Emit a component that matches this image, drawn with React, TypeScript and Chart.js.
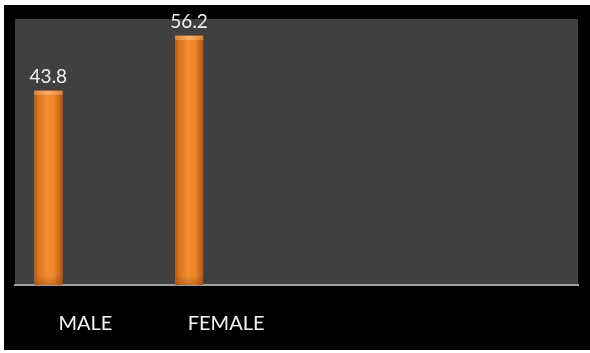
import React, { useEffect, useRef } from "react";
import { Chart, registerables } from "chart.js";

Chart.register(...registerables);

const categories = ["MALE", "FEMALE", "", ""];
const percentValues = [43.8, 56.2, null, null];
const emptySeriesA: (number | null)[] = [];
const emptySeriesB: (number | null)[] = [];
const yMin = 0;
const yMax = 60;

const FONT = "Lato, 'Open Sans', sans-serif";

const framePlugin = {
  id: "frame",
  beforeDraw(chart: any) {
    const { ctx, chartArea } = chart;
    ctx.save();
    ctx.fillStyle = "#ffffff";
    ctx.fillRect(0, 0, chart.width, chart.height);
    ctx.fillStyle = "#000000";
    ctx.fillRect(4, 5, chart.width - 4, chart.height - 8);
    ctx.fillStyle = "#404040";
    ctx.fillRect(chartArea.left, chartArea.top, chartArea.right - chartArea.left, chartArea.bottom - chartArea.top);
    ctx.restore();
  },
};

const barStylePlugin = {
  id: "barStyle",
  afterDatasetsDraw(chart: any) {
    const { ctx } = chart;
    const meta = chart.getDatasetMeta(0);
    ctx.save();
    meta.data.forEach((el: any, i: number) => {
      const v = percentValues[i];
      if (v === null || v === undefined) return;
      const { x, y, base, width } = el.getProps(["x", "y", "base", "width"], true);
      const l = x - width / 2;
      const r = x + width / 2;
      const g = ctx.createLinearGradient(l, 0, r, 0);
      g.addColorStop(0, "#B85A14");
      g.addColorStop(0.15, "#DA741F");
      g.addColorStop(0.45, "#F58E30");
      g.addColorStop(0.7, "#EE8829");
      g.addColorStop(1, "#B5581A");
      ctx.fillStyle = g;
      ctx.fillRect(l, y, width, base - y);
      const cg = ctx.createLinearGradient(l, 0, r, 0);
      cg.addColorStop(0, "#E0883A");
      cg.addColorStop(0.5, "#FBB066");
      cg.addColorStop(1, "#DC8436");
      ctx.fillStyle = cg;
      ctx.fillRect(l, y, width, 4);
      const bg = ctx.createLinearGradient(0, base - 10, 0, base);
      bg.addColorStop(0, "rgba(120,60,20,0)");
      bg.addColorStop(1, "rgba(120,60,20,0.35)");
      ctx.fillStyle = bg;
      ctx.fillRect(l, base - 10, width, 10);
      ctx.fillStyle = "#F2F2F2";
      ctx.font = `19px ${FONT}`;
      ctx.textAlign = "center";
      ctx.textBaseline = "alphabetic";
      ctx.fillText(String(v), x, y - 8);
    });
    ctx.restore();
  },
};

export default function App() {
  const ref = useRef<HTMLCanvasElement | null>(null);
  useEffect(() => {
    if (!ref.current) return;
    const chart = new Chart(ref.current, {
      type: "bar",
      data: {
        labels: categories,
        datasets: [
          { data: percentValues as any, backgroundColor: "#E87E26", categoryPercentage: 0.789, barPercentage: 0.757 },
          { data: emptySeriesA as any, backgroundColor: "#888888", categoryPercentage: 0.789, barPercentage: 0.757 },
          { data: emptySeriesB as any, backgroundColor: "#888888", categoryPercentage: 0.789, barPercentage: 0.757 },
        ],
      },
      options: {
        responsive: false,
        animation: false,
        layout: { padding: { left: 15, right: 12, top: 19, bottom: -10 } },
        plugins: { legend: { display: false }, tooltip: { enabled: false } },
        scales: {
          x: {
            grid: { display: false, drawTicks: false },
            border: { display: true, color: "#A0A0A0", width: 2 },
            ticks: { color: "#F2F2F2", font: { family: FONT, size: 20 }, padding: 27, maxRotation: 0, autoSkip: false },
          },
          y: { display: false, min: yMin, max: yMax },
        },
      },
      plugins: [framePlugin, barStylePlugin],
    });
    return () => chart.destroy();
  }, []);
  return (
    <div style={{ position: "absolute", left: 0, top: 0, width: 590, height: 353, background: "#fff" }}>
      <canvas ref={ref} width={590} height={353} style={{ display: "block", width: 590, height: 353 }} />
    </div>
  );
}
